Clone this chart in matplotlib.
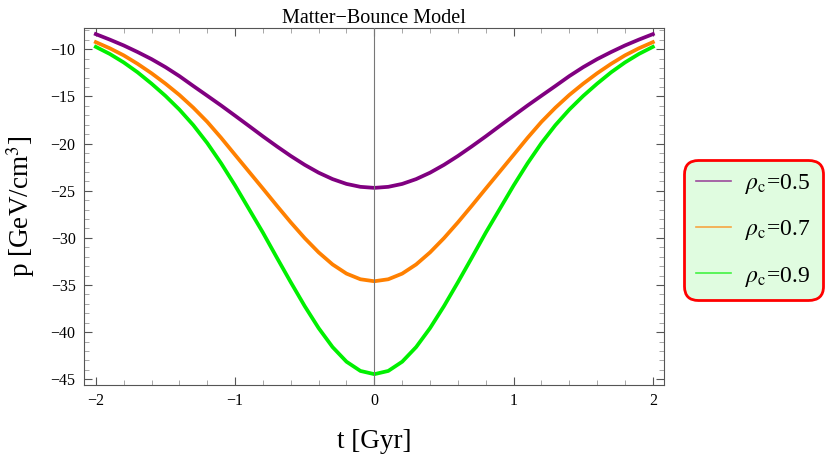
import numpy as np
import matplotlib
matplotlib.use("Agg")
import matplotlib.pyplot as plt
from matplotlib.ticker import MultipleLocator
from matplotlib.lines import Line2D

plt.rcParams['font.family'] = ['Liberation Serif', 'DejaVu Serif']
plt.rcParams['mathtext.fontset'] = 'stix'

# ── data (left half, t = -2 .. 0 step 0.1) ──────────────────────────────────
t_left = [-2.0, -1.9, -1.8, -1.7, -1.6, -1.5, -1.4, -1.3, -1.2, -1.1, -1.0,
          -0.9, -0.8, -0.7, -0.6, -0.5, -0.4, -0.3, -0.2, -0.1, 0.0]
p_rho05_left = [-8.40, -8.98, -9.60, -10.30, -11.05, -11.90, -12.85, -13.90, -14.93, -15.97,
                -17.05, -18.14, -19.24, -20.30, -21.32, -22.26, -23.09, -23.77, -24.28,
                -24.59, -24.70]
p_rho07_left = [-9.25, -9.90, -10.65, -11.55, -12.55, -13.65, -14.85, -16.20, -17.70, -19.40,
                -21.20, -22.99, -24.78, -26.59, -28.36, -30.03, -31.54, -32.82, -33.79,
                -34.39, -34.60]
p_rho09_left = [-9.75, -10.50, -11.40, -12.45, -13.65, -14.95, -16.40, -18.05, -19.95, -22.10,
                -24.45, -26.95, -29.45, -32.10, -34.71, -37.24, -39.57, -41.58, -43.13,
                -44.11, -44.45]
# the curves are symmetric about t = 0
t_gyr = t_left + [-t for t in t_left[-2::-1]]
p_rho05 = p_rho05_left + p_rho05_left[-2::-1]
p_rho07 = p_rho07_left + p_rho07_left[-2::-1]
p_rho09 = p_rho09_left + p_rho09_left[-2::-1]

labels = [r'$\rho_{\rm c}$=0.5', r'$\rho_{\rm c}$=0.7', r'$\rho_{\rm c}$=0.9']
colors = ['#800080', '#FF8000', '#00F000']

# ── figure ──────────────────────────────────────────────────────────────────
fig = plt.figure(figsize=(8.3, 4.61), dpi=100)
ax = fig.add_axes([84/830, 1 - 385/461, 580/830, 357/461])

for p, c in zip([p_rho05, p_rho07, p_rho09], colors):
    ax.plot(t_gyr, p, color=c, lw=2.7, solid_joinstyle='round', zorder=3)

ax.axvline(0, color='#777777', lw=0.8, zorder=4)

ax.set_xlim(-2.085, 2.08)
ax.set_ylim(-45.6, -7.75)

ax.xaxis.set_major_locator(MultipleLocator(1))
ax.xaxis.set_minor_locator(MultipleLocator(0.2))
ax.yaxis.set_major_locator(MultipleLocator(5))
ax.yaxis.set_minor_locator(MultipleLocator(1))
ax.tick_params(which='both', direction='in', top=True, right=True,
               labelsize=11.5, pad=6, colors='#555555', labelcolor='black')
ax.tick_params(which='major', length=6, width=0.8)
ax.tick_params(which='minor', length=3.5, width=0.6, colors='#999999')
for s in ax.spines.values():
    s.set_color('#555555')
    s.set_linewidth(0.8)

ax.set_title('Matter\u2212Bounce Model', fontsize=14.5, pad=3)
ax.set_xlabel('t [Gyr]', fontsize=19.5, labelpad=14)
ax.set_ylabel(r'p [GeV/cm$^3$]', fontsize=19.5, labelpad=10)

handles = [Line2D([], [], color=c, lw=1.2, alpha=0.7) for c in colors]
leg = ax.legend(handles, labels, loc='upper left',
                bbox_to_anchor=(684/830, 1 - 160/461), bbox_transform=fig.transFigure,
                fontsize=17, frameon=True, fancybox=True, borderpad=0.5,
                labelspacing=0.95, handlelength=1.5, handletextpad=0.6,
                borderaxespad=0)
frame = leg.get_frame()
frame.set_edgecolor('#FF0000')
frame.set_facecolor('#E0FCE0')
frame.set_alpha(1)
frame.set_linewidth(2)
frame.set_boxstyle('round', pad=0, rounding_size=0.6)

fig.savefig('out.png', dpi=100)
